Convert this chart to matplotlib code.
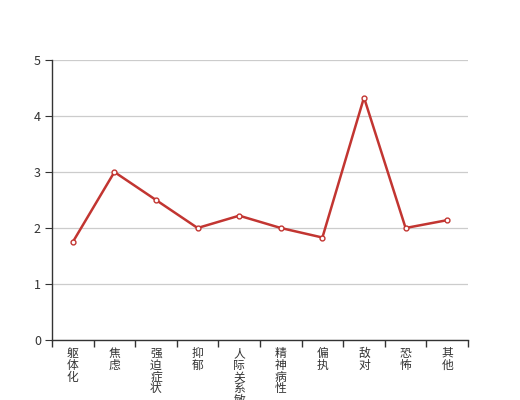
import matplotlib
matplotlib.use('Agg')
import matplotlib.pyplot as plt
import numpy as np

plt.rcParams['font.family'] = ['Noto Sans CJK SC', 'DejaVu Sans']

categories = ['躯体化', '焦虑', '强迫症状', '抑郁', '人际关系敏感', '精神病性', '偏执', '敌对', '恐怖', '其他']
values = [1.75, 3.0, 2.5, 2.0, 2.22, 2.0, 1.83, 4.33, 2.0, 2.14]

fig = plt.figure(figsize=(5.2, 4), dpi=100)
ax = fig.add_axes([0.1, 0.15, 0.8, 0.7])

x = np.arange(len(categories))
ax.plot(x, values, color='#c23531', linewidth=1.8, marker='o', markersize=3.5,
        markerfacecolor='white', markeredgecolor='#c23531', markeredgewidth=1, zorder=3)

ax.set_xlim(-0.5, len(categories) - 0.5)
ax.set_ylim(0, 5)
ax.set_yticks(range(6))
ax.yaxis.grid(True, color='#cccccc', linewidth=0.9)
ax.set_axisbelow(True)

ax.set_xticks(x)
ax.set_xticklabels(['\n'.join(c) for c in categories], fontsize=8.5, color='#333333',
                   va='top', linespacing=0.88)
ax.tick_params(axis='x', which='major', length=0, pad=5)
ax.set_xticks(np.arange(-0.5, len(categories)), minor=True)
ax.tick_params(axis='x', which='minor', length=5, color='#333333', width=1)
ax.tick_params(axis='y', length=5, color='#333333', labelcolor='#333333', labelsize=9, pad=3)

for s in ['top', 'right']:
    ax.spines[s].set_visible(False)
for s in ['left', 'bottom']:
    ax.spines[s].set_color('#333333')
    ax.spines[s].set_linewidth(1)

fig.savefig('out.png', dpi=100)
